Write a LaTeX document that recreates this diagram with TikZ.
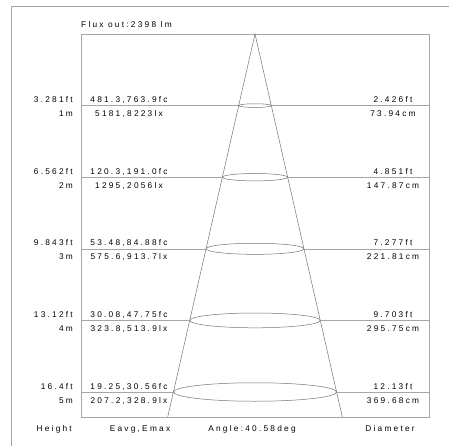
\documentclass[tikz,border=0pt]{standalone}
\usepackage{fontspec}
\setmainfont{Liberation Sans}[LetterSpace=27]
\usepackage{tikz}

\begin{document}
\begin{tikzpicture}[x=1pt, y=-1pt,
  lbl/.style={inner sep=0pt, font=\fontsize{8.3}{9}\selectfont},
  frame/.style={draw=black!35, line width=0.6pt},
  beam/.style={draw=black!55, line width=0.5pt}]
\useasboundingbox (0,0) rectangle (449,446);
\coordinate (O1) at (11,446);
\coordinate (O2) at (11,6);
\coordinate (O3) at (449,6);
\draw[frame] (O1) -- (O2) -- (O3);

\coordinate (TL) at (81,34);
\coordinate (BR) at (429,417);
\draw[frame] (TL) rectangle (BR);

\coordinate (apex) at (255,34);
\coordinate (footL) at (167.7,417);
\coordinate (footR) at (342.3,417);
\draw[beam] (footL) -- (apex) -- (footR);

\node[lbl, anchor=base west] (flux) at (81,28) {Flux out:2398 lm};

\foreach \i/\ft/\fc/\lx/\dft/\dcm in {
  1/3.281ft/{481.3,763.9fc}/{5181,8223lx}/2.426ft/73.94cm,
  2/6.562ft/{120.3,191.0fc}/{1295,2056lx}/4.851ft/147.87cm,
  3/9.843ft/{53.48,84.88fc}/{575.6,913.7lx}/7.277ft/221.81cm,
  4/13.12ft/{30.08,47.75fc}/{323.8,513.9lx}/9.703ft/295.75cm,
  5/16.4ft/{19.25,30.56fc}/{207.2,328.9lx}/12.13ft/369.68cm}{
  \pgfmathsetmacro{\yy}{34+71.6*\i}
  \pgfmathsetmacro{\hw}{16.3*\i}
  \pgfmathsetmacro{\ry}{1.85*\i}
  \coordinate (L\i) at (81,\yy);
  \coordinate (R\i) at (429,\yy);
  \coordinate (cl\i) at (255-\hw,\yy);
  \coordinate (cr\i) at (255+\hw,\yy);
  \coordinate (c\i) at (255,\yy);
  \draw[frame] (L\i) -- (cl\i);
  \draw[frame] (cr\i) -- (R\i);
  \draw[beam] (c\i) ellipse ({\hw} and {\ry});
  % height
  \node[lbl, anchor=base east] (ft\i) at (73,\yy-3) {\ft};
  \node[lbl, anchor=base east] (m\i) at (73,\yy+11) {\i m};
  % illuminance
  \node[lbl, anchor=base] (fc\i) at (129,\yy-3) {\fc};
  \node[lbl, anchor=base] (lx\i) at (129,\yy+11) {\lx};
  % diameter
  \node[lbl, anchor=base] (dft\i) at (393,\yy-3) {\dft};
  \node[lbl, anchor=base] (dcm\i) at (393,\yy+11) {\dcm};
}

\node[lbl, anchor=base east] (height) at (72,431) {Height};
\node[lbl, anchor=base] (emax) at (140,431) {Eavg,Emax};
\node[lbl, anchor=base] (angle) at (252,431) {Angle:40.58deg};
\node[lbl, anchor=base] (diam) at (390,431) {Diameter};
\end{tikzpicture}
\end{document}
